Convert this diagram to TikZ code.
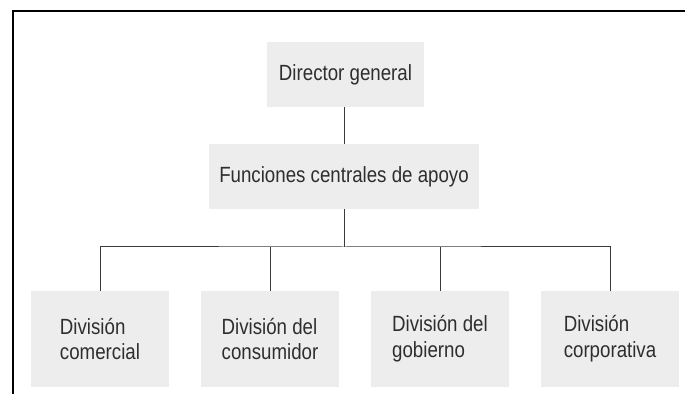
\documentclass[tikz,border=0pt]{standalone}
\usepackage{fontspec}
\newfontfamily\orgfont{Liberation Sans}[FakeStretch=0.85]
\usetikzlibrary{positioning}
\definecolor{boxgray}{HTML}{EDEDED}
\definecolor{textgray}{HTML}{2E2E2E}
\definecolor{linegray}{HTML}{3A3A3A}

\begin{document}
\begin{tikzpicture}[x=0.5pt, y=-0.5pt,
  every node/.style={font=\orgfont\fontsize{11}{12.9}\selectfont, text=textgray},
  orgbox/.style={fill=boxgray, inner sep=0pt, align=left},
  link/.style={draw=linegray, line width=0.5pt}]

% canvas and open frame
\useasboundingbox (0,0) rectangle (685,394);
\draw[line width=1pt, black] (13,394) -- (13,11) -- (685,11);

% top of the chart
\node[orgbox, minimum width=78.5pt, minimum height=32.5pt] (director) at (345.5,74.5) {Director general};
\node[orgbox, minimum width=135pt, minimum height=32.5pt] (apoyo) at (344,176.5) {Funciones centrales de apoyo};

% divisions
\node[orgbox, minimum width=69pt, minimum height=48pt] (comercial) at (100,339) {División\\comercial};
\node[orgbox, minimum width=69pt, minimum height=48pt] (consumidor) at (270,339) {División del\\consumidor};
\node[orgbox, minimum width=69pt, minimum height=48pt] (gobierno) at (440,339) {División del\\gobierno};
\node[orgbox, minimum width=69pt, minimum height=48pt] (corporativa) at (610,339) {División\\corporativa};

% connectors
\coordinate (bus) at (344,247);
\draw[link] (director.south -| apoyo.north) -- (apoyo.north);
\draw[link] (apoyo.south) -- (bus);
\draw[link] (comercial.north) |- (bus) -| (corporativa.north);
\draw[link] (consumidor.north) -- (consumidor.north |- bus);
\draw[link] (gobierno.north) -- (gobierno.north |- bus);

\end{tikzpicture}
\end{document}
